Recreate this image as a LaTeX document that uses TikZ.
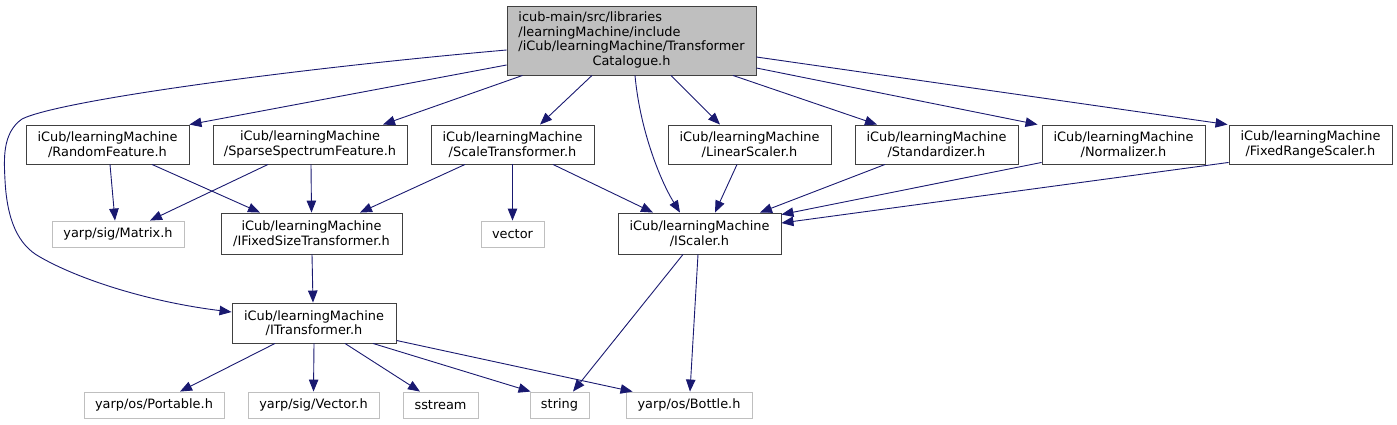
\documentclass[tikz,border=0pt]{standalone}
\usepackage{fontspec}
\setmainfont{DejaVu Sans}
\usetikzlibrary{arrows.meta,calc}
\definecolor{edgeblue}{HTML}{191970}
\definecolor{lgray}{HTML}{BFBFBF}
\definecolor{dgray}{HTML}{404040}
\tikzset{
  box/.style={draw=dgray, line width=0.9pt, fill=white, align=center, inner sep=0pt,
    font={\fontsize{12.9}{14.5}\selectfont}},
  extbox/.style={box, draw=lgray},
  topbox/.style={box, fill=lgray},
  dep/.style={draw=edgeblue, line width=0.9pt, -{Triangle[length=12pt,width=9.5pt]}}
}
\begin{document}
\begin{tikzpicture}[x=1pt,y=-1pt]
\useasboundingbox (0,0) rectangle (1397,424);
% nodes
\node[topbox, minimum width=249pt, minimum height=69pt] (top) at (631.5,40.5)
  {\begin{tabular}{@{}l@{}}icub-main/src/libraries\\/learningMachine/include\\/iCub/learningMachine/Transformer\\\multicolumn{1}{@{}c@{}}{Catalogue.h}\end{tabular}};
\node[box, minimum width=163pt, minimum height=39pt] (rf) at (107.5,144.5) {iCub/learningMachine\\/RandomFeature.h};
\node[box, minimum width=194pt, minimum height=39pt] (ssf) at (310,144.5) {iCub/learningMachine\\/SparseSpectrumFeature.h};
\node[box, minimum width=163pt, minimum height=39pt] (st) at (512.5,144.5) {iCub/learningMachine\\/ScaleTransformer.h};
\node[box, minimum width=163pt, minimum height=39pt] (ls) at (749.5,144.5) {iCub/learningMachine\\/LinearScaler.h};
\node[box, minimum width=163pt, minimum height=39pt] (sd) at (936.5,144.5) {iCub/learningMachine\\/Standardizer.h};
\node[box, minimum width=163pt, minimum height=39pt] (nz) at (1123.5,144.5) {iCub/learningMachine\\/Normalizer.h};
\node[box, minimum width=163pt, minimum height=39pt] (frs) at (1310.5,144.5) {iCub/learningMachine\\/FixedRangeScaler.h};
\node[extbox, minimum width=132pt, minimum height=26pt] (mat) at (118,234) {yarp/sig/Matrix.h};
\node[box, minimum width=181pt, minimum height=41pt] (ifs) at (311.5,233.5) {iCub/learningMachine\\/IFixedSizeTransformer.h};
\node[extbox, minimum width=63pt, minimum height=26pt] (vec) at (512.5,234) {vector};
\node[box, minimum width=163pt, minimum height=41pt] (isc) at (699.5,233.5) {iCub/learningMachine\\/IScaler.h};
\node[box, minimum width=164pt, minimum height=40pt] (itr) at (314,323) {iCub/learningMachine\\/ITransformer.h};
\node[extbox, minimum width=140pt, minimum height=26pt] (port) at (154,405) {yarp/os/Portable.h};
\node[extbox, minimum width=131pt, minimum height=26pt] (svec) at (313.5,405) {yarp/sig/Vector.h};
\node[extbox, minimum width=75pt, minimum height=26pt] (sstr) at (440.5,405) {sstream};
\node[extbox, minimum width=59pt, minimum height=26pt] (str) at (559.5,405) {string};
\node[extbox, minimum width=126pt, minimum height=26pt] (bot) at (689,405) {yarp/os/Bottle.h};
% edges from top
\draw[dep] ([yshift=-24.5pt]top.west) -- (rf.north east);
\draw[dep] ([xshift=16pt]top.south west) -- ([xshift=73pt]ssf.north);
\draw[dep] ([yshift=-9.5pt]top.west) .. controls (300,68) and (60,100) .. (22,119)
   .. controls (2,133) and (4,160) .. (5,180)
   .. controls (7,220) and (18,245) .. (40,257)
   .. controls (80,280) and (150,302) .. ([yshift=11pt]itr.west);
\draw[dep] ([xshift=-39.5pt]top.south) -- ([xshift=27.5pt]st.north);
\draw[dep] ([xshift=3.5pt]top.south) .. controls (640,130) and (660,180) .. ([xshift=-19.5pt]isc.north);
\draw[dep] ([xshift=39.5pt]top.south) -- ([xshift=-29.5pt]ls.north);
\draw[dep] ([xshift=101.5pt]top.south) -- ([xshift=-59.5pt]sd.north);
\draw[dep] ([yshift=-27.5pt]top.east) -- ([xshift=-4pt]nz.north west);
\draw[dep] ([yshift=-16.5pt]top.east) -- ([xshift=-1pt]frs.north west);
% row 2 -> row 3
\draw[dep] ([xshift=2.5pt]rf.south) -- ([xshift=-3pt]mat.north);
\draw[dep] ([xshift=44.5pt]rf.south) -- ([xshift=-51.5pt]ifs.north);
\draw[dep] ([xshift=-42pt]ssf.south) -- ([xshift=32pt]mat.north);
\draw[dep] ([xshift=1pt]ssf.south) -- (ifs.north);
\draw[dep] ([xshift=-47.5pt]st.south) -- ([xshift=48.5pt]ifs.north);
\draw[dep] (st.south) -- (vec.north);
\draw[dep] ([xshift=40.5pt]st.south) -- ([xshift=-46.5pt]isc.north);
\draw[dep] ([xshift=-12.5pt]ls.south) -- ([xshift=15.5pt]isc.north);
\draw[dep] ([xshift=-51.5pt]sd.south) -- ([xshift=60.5pt]isc.north);
\draw[dep] ([yshift=2pt]nz.south west) -- ([yshift=-2pt]isc.north east);
\draw[dep] ([yshift=2pt]frs.south west) -- ([yshift=10.5pt]isc.east);
% lower
\draw[dep] ([xshift=0.5pt]ifs.south) -- ([xshift=-1pt]itr.north);
\draw[dep] ([xshift=-39pt]itr.south) -- ([xshift=26pt]port.north);
\draw[dep] (itr.south) -- (svec.north);
\draw[dep] ([xshift=31pt]itr.south) -- ([xshift=-20.5pt]sstr.north);
\draw[dep] ([xshift=59pt]itr.south) -- ([xshift=1pt]str.north west);
\draw[dep] ([yshift=3pt]itr.south east) -- ([xshift=7pt]bot.north west);
\draw[dep] ([xshift=-16.5pt]isc.south) -- ([xshift=13.5pt]str.north);
\draw[dep] ([xshift=-1.5pt]isc.south) -- ([xshift=1pt]bot.north);
\end{tikzpicture}
\end{document}
